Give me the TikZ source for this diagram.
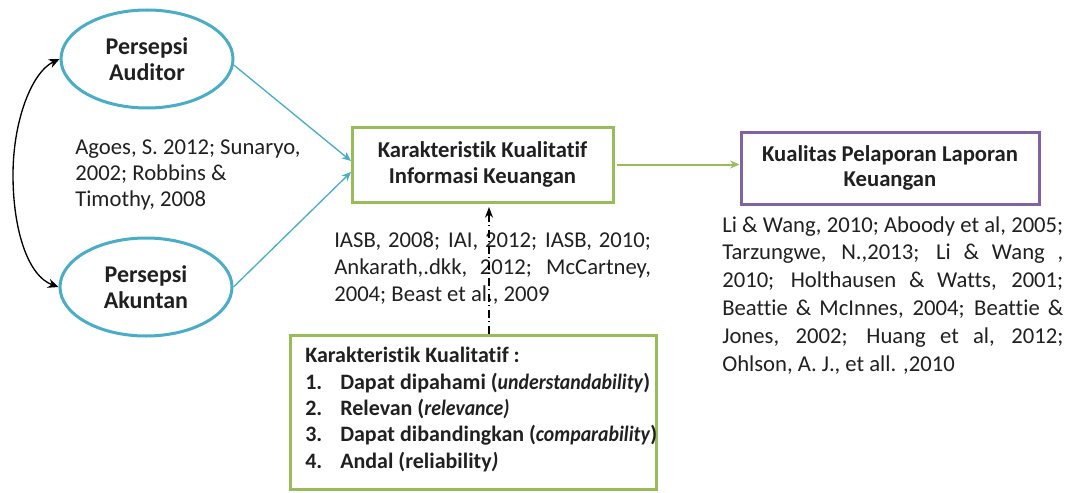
\documentclass[tikz,border=0pt]{standalone}
\usepackage{fontspec}
\setmainfont{Carlito}[Ligatures={NoCommon}]
\usetikzlibrary{arrows.meta,shapes.geometric}
\definecolor{cblue}{HTML}{4BACC6}
\definecolor{cgreen}{HTML}{9BBB59}
\definecolor{cpurple}{HTML}{8064A2}
\definecolor{txt}{HTML}{202020}
\newcommand{\narrowit}[1]{\scalebox{0.9}[1]{\textit{#1}}}
\begin{document}
\begin{tikzpicture}[x=0.75pt,y=-0.75pt,
  every node/.style={text=txt},
  base/.style={font=\fontsize{17}{19.5}\selectfont},
  ell/.style={draw=cblue,line width=2.25pt,ellipse,minimum width=129pt,minimum height=73.5pt,inner sep=0pt,align=center,font=\fontsize{18}{19.5}\selectfont\bfseries},
  gbox/.style={draw=cgreen,line width=2.25pt,rectangle,inner sep=0pt},
  pbox/.style={draw=cpurple,line width=2.25pt,rectangle,inner sep=0pt},
  ref/.style={base,align=left,inner sep=0pt},
  bluearr/.style={draw=cblue,line width=1pt,-{Stealth[length=7pt,width=6pt]}},
]
\useasboundingbox (0,0) rectangle (1069,492);
% ellipses
\node[ell] (aud) at (147,59) {Persepsi\\Auditor};
\node[ell] (akn) at (146,287) {Persepsi\\Akuntan};
% central box
\node[gbox,minimum width=195.75pt,minimum height=56.25pt,align=center,font=\fontsize{17}{20}\selectfont\bfseries] (kk) at (482.5,164.5) {Karakteristik Kualitatif\\Informasi Keuangan};
% purple box
\node[pbox,minimum width=223.5pt,minimum height=54pt,align=center,font=\fontsize{17}{19}\selectfont\bfseries] (kp) at (890,168) {Kualitas Pelaporan Laporan\\Keuangan};
% bottom box
\node[gbox,minimum width=274.5pt,minimum height=115.5pt] (bb) at (473,412) {};
\node[ref,anchor=north west,font=\fontsize{16.5}{19.8}\selectfont\bfseries] (bbt) at (305,347) {%
Karakteristik Kualitatif :\\
\makebox[26.25pt][l]{1.}Dapat dipahami (\narrowit{understandability})\\
\makebox[26.25pt][l]{2.}Relevan (\narrowit{relevance)}\\
\makebox[26.25pt][l]{3.}Dapat dibandingkan (\narrowit{comparability})\\
\makebox[26.25pt][l]{4.}Andal (reliability\textit{)}};
% text blocks
\node[ref,anchor=west] (t1) at (75,175) {Agoes, S. 2012; Sunaryo,\\2002; Robbins \&\\Timothy, 2008};
\node[ref,anchor=north west,font=\fontsize{17}{20.2}\selectfont] (t2) at (334,232) {%
\makebox[237.5pt][s]{IASB, 2008; IAI, 2012; IASB, 2010;}\\
\makebox[237.5pt][s]{Ankarath,.dkk, 2012; McCartney,}\\
2004; Beast et al., 2009};
\node[ref,anchor=north west,font=\fontsize{17}{20.9}\selectfont] (t3) at (722,216) {%
\makebox[255.75pt][s]{Li \& Wang, 2010; Aboody et al, 2005;}\\
\makebox[255.75pt][s]{Tarzungwe, N.,2013; Li \& Wang ,}\\
\makebox[255.75pt][s]{2010; Holthausen \& Watts, 2001;}\\
\makebox[255.75pt][s]{Beattie \& McInnes, 2004; Beattie \&}\\
\makebox[255.75pt][s]{Jones, 2002; Huang et al, 2012;}\\
Ohlson, A. J., et all. ,2010};
% connectors
\coordinate (in1) at (351,161);
\coordinate (in2) at (351,172);
\draw[bluearr] (aud.-4) -- (in1);
\draw[bluearr] (akn.east) -- (in2);
\draw[black,line width=1pt,{Stealth[length=8pt,width=7pt]}-{Stealth[length=8pt,width=7pt]}]
  (aud.west) .. controls (32,72) and (13,120) .. (13,175) .. controls (13,230) and (28,276) .. (akn.west);
\draw[cgreen,line width=1.5pt,-{Stealth[length=7pt,width=6pt]}] (kk.east) ++(2,0) -- (kk.east -| kp.west);
\coordinate (dtop) at (489,207);
\draw[black,line width=0.9pt,dash pattern=on 6pt off 2.5pt on 1pt off 2.5pt,-{Stealth[length=8pt,width=6pt]}] (bb.north -| dtop) -- (dtop);
\end{tikzpicture}
\end{document}
